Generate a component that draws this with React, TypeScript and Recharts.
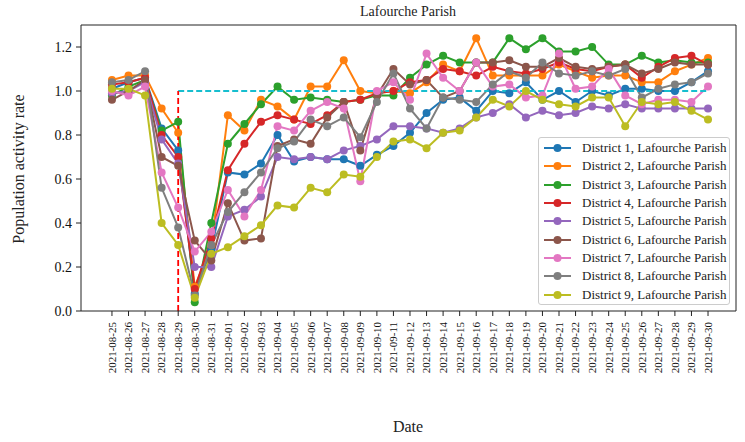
import React from "react";
import {
  LineChart,
  Line,
  XAxis,
  YAxis,
  ReferenceLine,
  Legend
} from "recharts";

const dates = [
  "2021-08-25", "2021-08-26", "2021-08-27", "2021-08-28", "2021-08-29", "2021-08-30", "2021-08-31",
  "2021-09-01", "2021-09-02", "2021-09-03", "2021-09-04", "2021-09-05", "2021-09-06", "2021-09-07",
  "2021-09-08", "2021-09-09", "2021-09-10", "2021-09-11", "2021-09-12", "2021-09-13", "2021-09-14",
  "2021-09-15", "2021-09-16", "2021-09-17", "2021-09-18", "2021-09-19", "2021-09-20", "2021-09-21",
  "2021-09-22", "2021-09-23", "2021-09-24", "2021-09-25", "2021-09-26", "2021-09-27", "2021-09-28",
  "2021-09-29", "2021-09-30"
];

const district1 = [1.01, 1.04, 1.06, 0.83, 0.73, 0.08, 0.28, 0.63, 0.62, 0.67, 0.80, 0.68, 0.70, 0.69, 0.69, 0.66, 0.71, 0.75, 0.81, 0.90, 0.96, 0.97, 0.91, 1.00, 0.99, 1.04, 0.96, 1.00, 0.95, 1.00, 0.98, 1.01, 1.01, 1.00, 1.00, 1.04, 1.09];
const district2 = [1.05, 1.07, 1.07, 0.92, 0.81, 0.11, 0.30, 0.89, 0.82, 0.96, 0.93, 0.87, 1.02, 1.02, 1.14, 1.00, 0.99, 1.00, 0.99, 1.04, 1.12, 1.09, 1.24, 1.07, 1.07, 1.07, 1.07, 1.12, 1.09, 1.06, 1.07, 1.07, 1.04, 1.04, 1.09, 1.12, 1.15];
const district3 = [0.98, 1.02, 1.05, 0.82, 0.86, 0.04, 0.40, 0.76, 0.85, 0.94, 1.02, 0.96, 0.97, 0.96, 0.95, 0.96, 0.98, 0.98, 1.06, 1.12, 1.16, 1.13, 1.13, 1.13, 1.24, 1.19, 1.24, 1.18, 1.18, 1.20, 1.12, 1.12, 1.16, 1.13, 1.14, 1.13, 1.13];
const district4 = [1.03, 1.04, 1.06, 0.80, 0.70, 0.10, 0.33, 0.64, 0.76, 0.86, 0.89, 0.87, 0.85, 0.89, 0.95, 0.96, 0.99, 1.00, 1.04, 1.05, 1.10, 1.09, 1.07, 1.11, 1.09, 1.08, 1.10, 1.13, 1.10, 1.09, 1.11, 1.12, 1.06, 1.11, 1.15, 1.16, 1.12];
const district5 = [0.99, 1.00, 1.04, 0.78, 0.67, 0.20, 0.20, 0.43, 0.46, 0.52, 0.70, 0.69, 0.70, 0.69, 0.73, 0.75, 0.78, 0.84, 0.84, 0.83, 0.81, 0.83, 0.88, 0.90, 0.94, 0.88, 0.91, 0.89, 0.90, 0.93, 0.92, 0.94, 0.92, 0.92, 0.92, 0.92, 0.92];
const district6 = [0.96, 1.00, 1.05, 0.70, 0.66, 0.32, 0.23, 0.49, 0.32, 0.33, 0.75, 0.78, 0.76, 0.88, 0.95, 0.73, 0.98, 1.10, 1.03, 1.05, 0.97, 1.00, 1.13, 1.13, 1.14, 1.11, 1.11, 1.15, 1.11, 1.10, 1.11, 1.12, 1.08, 1.10, 1.13, 1.12, 1.12];
const district7 = [1.00, 0.98, 1.02, 0.63, 0.47, 0.27, 0.36, 0.55, 0.43, 0.55, 0.84, 0.82, 0.91, 0.95, 0.92, 0.59, 1.00, 1.04, 0.96, 1.17, 1.06, 1.00, 1.13, 1.02, 1.03, 0.97, 0.98, 1.17, 1.01, 1.02, 1.10, 0.98, 0.94, 0.96, 0.96, 0.95, 1.02];
const district8 = [1.04, 1.05, 1.09, 0.56, 0.38, 0.07, 0.30, 0.45, 0.54, 0.63, 0.74, 0.77, 0.87, 0.84, 0.88, 0.79, 0.95, 1.08, 0.92, 0.83, 0.97, 0.96, 0.95, 1.03, 1.09, 1.06, 1.13, 1.08, 1.07, 1.09, 1.07, 1.10, 0.97, 1.01, 1.03, 1.04, 1.08];
const district9 = [1.01, 1.01, 0.98, 0.40, 0.30, 0.06, 0.26, 0.29, 0.34, 0.39, 0.48, 0.47, 0.56, 0.54, 0.62, 0.61, 0.70, 0.77, 0.78, 0.74, 0.81, 0.82, 0.88, 0.96, 0.93, 1.00, 0.96, 0.94, 0.93, 0.97, 0.97, 0.84, 0.95, 0.94, 0.95, 0.91, 0.87];

const seriesNames = [
  "District 1, Lafourche Parish",
  "District 2, Lafourche Parish",
  "District 3, Lafourche Parish",
  "District 4, Lafourche Parish",
  "District 5, Lafourche Parish",
  "District 6, Lafourche Parish",
  "District 7, Lafourche Parish",
  "District 8, Lafourche Parish",
  "District 9, Lafourche Parish"
];
const seriesValues = [district1, district2, district3, district4, district5, district6, district7, district8, district9];
const colors = ["#1f77b4", "#ff7f0e", "#2ca02c", "#d62728", "#9467bd", "#8c564b", "#e377c2", "#7f7f7f", "#bcbd22"];

const yTicks = [0, 0.2, 0.4, 0.6, 0.8, 1.0, 1.2];
const eventIndex = 4; // 2021-08-29

// x runs over the date index, with matplotlib-like margins on both sides
const xMin = -1.87;
const xMax = dates.length - 1 + 1.69;
const yMax = 1.3;

const data = dates.map((d, i) => {
  const row: Record<string, string | number> = { idx: i, date: d };
  seriesValues.forEach((vals, k) => {
    row["d" + (k + 1)] = vals[i];
  });
  return row;
});

const FONT = "'Liberation Serif', 'Times New Roman', serif";

function DateTick(props: any) {
  const { x, y, payload } = props;
  return (
    <g transform={`translate(${x},${y})`}>
      <text
        transform="rotate(-90)"
        x={-4}
        y={0}
        dy="0.35em"
        textAnchor="end"
        style={{ fontFamily: FONT, fontSize: 11 }}
        fill="#111"
      >
        {dates[payload.value]}
      </text>
    </g>
  );
}

function RateTick(props: any) {
  const { x, y, payload } = props;
  return (
    <text
      x={x - 2}
      y={y}
      dy="0.35em"
      textAnchor="end"
      style={{ fontFamily: FONT, fontSize: 14 }}
      fill="#111"
    >
      {Number(payload.value).toFixed(1)}
    </text>
  );
}

function LegendBox() {
  return (
    <div
      style={{
        width: 192,
        height: 168,
        boxSizing: "border-box",
        border: "1px solid #cccccc",
        borderRadius: 3,
        background: "rgba(255,255,255,0.85)",
        paddingTop: 1,
        fontFamily: FONT,
        fontSize: 13,
        color: "#222"
      }}
    >
      {seriesNames.map((name, k) => (
        <div key={name} style={{ display: "flex", alignItems: "center", height: 18.3 }}>
          <svg width={43} height={12} style={{ flex: "none" }}>
            <line x1={5} y1={6} x2={32} y2={6} stroke={colors[k]} strokeWidth={2} />
            <circle cx={18.5} cy={6} r={4} fill={colors[k]} />
          </svg>
          <span style={{ whiteSpace: "nowrap" }}>{name}</span>
        </div>
      ))}
    </div>
  );
}

export default function App() {
  return (
    <div
      style={{
        position: "absolute",
        left: 0,
        top: 0,
        width: 745,
        height: 442,
        background: "#fff",
        fontFamily: FONT
      }}
    >
      <LineChart
        width={745}
        height={442}
        data={data}
        margin={{ top: 25, right: 9, left: 0, bottom: 0 }}
        style={{ fontFamily: FONT }}
      >
        <text x={408} y={13} textAnchor="middle" dominantBaseline="middle" style={{ fontFamily: FONT, fontSize: 14 }} fill="#222">
          Lafourche Parish
        </text>
        <text
          x={20}
          y={169}
          transform="rotate(-90, 20, 169)"
          textAnchor="middle"
          dominantBaseline="middle"
          style={{ fontFamily: FONT, fontSize: 16 }}
          fill="#222"
        >
          Population activity rate
        </text>
        <text x={408} y={428} textAnchor="middle" dominantBaseline="middle" style={{ fontFamily: FONT, fontSize: 16 }} fill="#222">
          Date
        </text>
        <XAxis
          dataKey="idx"
          type="number"
          domain={[xMin, xMax]}
          ticks={dates.map((_, i) => i)}
          interval={0}
          allowDataOverflow
          height={131}
          tick={<DateTick />}
          tickSize={5}
          stroke="#222"
        />
        <YAxis
          domain={[0, yMax]}
          ticks={yTicks}
          width={81}
          tickSize={5}
          stroke="#222"
          tick={<RateTick />}
        />
        {seriesNames.map((name, k) => (
          <Line
            key={name}
            name={name}
            dataKey={"d" + (k + 1)}
            stroke={colors[k]}
            strokeWidth={2}
            dot={{ r: 4, fill: colors[k], stroke: colors[k], strokeWidth: 0 }}
            activeDot={false}
            isAnimationActive={false}
          />
        ))}
        <ReferenceLine
          segment={[{ x: eventIndex, y: 1 }, { x: dates.length - 1, y: 1 }]}
          stroke="#17becf"
          strokeWidth={1.8}
          strokeDasharray="6 3"
        />
        <ReferenceLine
          segment={[{ x: eventIndex, y: 0 }, { x: eventIndex, y: 1 }]}
          stroke="#ff0000"
          strokeWidth={1.8}
          strokeDasharray="6 3"
        />
        {/* top and right spines */}
        <ReferenceLine y={yMax} stroke="#222" strokeWidth={1} ifOverflow="visible" />
        <ReferenceLine x={xMax} stroke="#222" strokeWidth={1} ifOverflow="visible" />
        <Legend
          layout="vertical"
          align="center"
          verticalAlign="middle"
          content={<LegendBox />}
          wrapperStyle={{ position: "absolute", left: 538, top: 137, width: 192, height: 168 }}
        />
      </LineChart>
    </div>
  );
}
